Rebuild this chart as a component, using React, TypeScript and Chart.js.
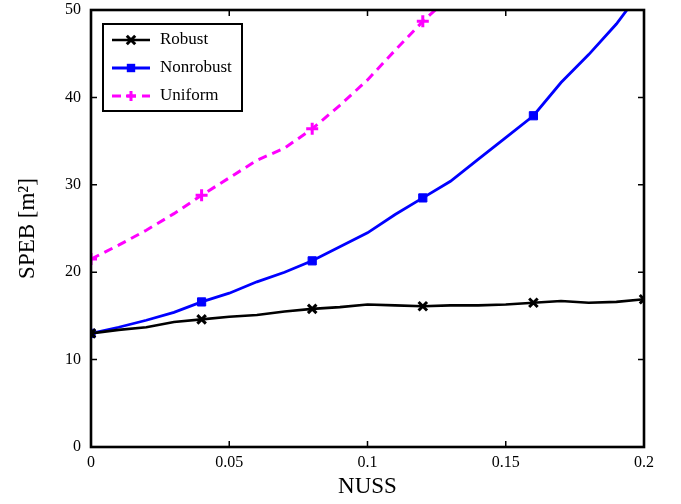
import React, { useEffect, useRef } from "react";
import { Chart, registerables } from "chart.js";

Chart.register(...registerables);

// NUSS samples (every 0.01); markers are shown every 0.04
const NUSS = [0, 0.01, 0.02, 0.03, 0.04, 0.05, 0.06, 0.07, 0.08, 0.09, 0.1, 0.11, 0.12, 0.13, 0.14, 0.15, 0.16, 0.17, 0.18, 0.19, 0.2];
const ROBUST = [13.0, 13.4, 13.7, 14.3, 14.6, 14.9, 15.1, 15.5, 15.8, 16.0, 16.3, 16.2, 16.1, 16.2, 16.2, 16.3, 16.5, 16.7, 16.5, 16.6, 16.9];
const NONROBUST = [13.0, 13.7, 14.5, 15.4, 16.6, 17.6, 18.9, 20.0, 21.3, 22.9, 24.5, 26.6, 28.5, 30.4, 32.9, 35.4, 37.9, 41.7, 44.9, 48.4, 52.6];
const UNIFORM = [21.5, 23.1, 24.8, 26.7, 28.8, 30.8, 32.8, 34.2, 36.4, 39.1, 42.0, 45.4, 48.7, 51.6];

const X_TICKS = [0, 0.05, 0.1, 0.15, 0.2];
const X_TICK_LABELS = ["0", "0.05", "0.1", "0.15", "0.2"];
const Y_TICKS = [0, 10, 20, 30, 40, 50];

const SERIF = "'Liberation Serif', 'DejaVu Serif', serif";

const toPoints = (ys: number[]) => ys.map((y, i) => ({ x: NUSS[i], y }));
const markerRadius = (r: number) => (ctx: any) => (ctx.dataIndex % 4 === 0 ? r : 0);

// Box frame with inward ticks on all four sides
const framePlugin = {
  id: "frame",
  afterDatasetsDraw(chart: any) {
    const { ctx, chartArea: a, scales } = chart;
    const len = 6;
    ctx.save();
    ctx.strokeStyle = "#000";
    ctx.lineWidth = 1.5;
    ctx.beginPath();
    X_TICKS.forEach((v) => {
      const px = scales.x.getPixelForValue(v);
      ctx.moveTo(px, a.bottom);
      ctx.lineTo(px, a.bottom - len);
      ctx.moveTo(px, a.top);
      ctx.lineTo(px, a.top + len);
    });
    Y_TICKS.forEach((v) => {
      const py = scales.y.getPixelForValue(v);
      ctx.moveTo(a.left, py);
      ctx.lineTo(a.left + len, py);
      ctx.moveTo(a.right, py);
      ctx.lineTo(a.right - len, py);
    });
    ctx.stroke();
    ctx.lineWidth = 2.6;
    ctx.strokeRect(a.left, a.top, a.right - a.left, a.bottom - a.top);
    ctx.restore();
  },
};

// Legend box drawn inside the plot area, top-left
const legendPlugin = {
  id: "boxLegend",
  afterDraw(chart: any) {
    const { ctx, chartArea: a } = chart;
    const x0 = a.left + 12;
    const y0 = a.top + 14;
    const w = 139;
    const h = 87;
    ctx.save();
    ctx.fillStyle = "#fff";
    ctx.fillRect(x0, y0, w, h);
    ctx.strokeStyle = "#000";
    ctx.lineWidth = 2;
    ctx.strokeRect(x0, y0, w, h);
    chart.data.datasets.forEach((ds: any, i: number) => {
      const cy = y0 + 16 + i * 28;
      const lx0 = x0 + 9;
      const lx1 = x0 + 47;
      ctx.strokeStyle = ds.borderColor;
      ctx.lineWidth = ds.borderWidth;
      ctx.setLineDash(ds.borderDash || []);
      ctx.beginPath();
      ctx.moveTo(lx0, cy);
      ctx.lineTo(lx1, cy);
      ctx.stroke();
      ctx.setLineDash([]);
      const mx = (lx0 + lx1) / 2;
      const r = ds.legendRadius;
      ctx.lineWidth = ds.pointBorderWidth;
      ctx.strokeStyle = ds.pointBorderColor;
      ctx.fillStyle = ds.pointBackgroundColor;
      ctx.beginPath();
      if (ds.pointStyle === "rect") {
        ctx.fillRect(mx - r, cy - r, 2 * r, 2 * r);
      } else if (ds.pointStyle === "crossRot") {
        const d = r * 0.7;
        ctx.moveTo(mx - d, cy - d);
        ctx.lineTo(mx + d, cy + d);
        ctx.moveTo(mx - d, cy + d);
        ctx.lineTo(mx + d, cy - d);
        ctx.stroke();
      } else {
        ctx.moveTo(mx - r, cy);
        ctx.lineTo(mx + r, cy);
        ctx.moveTo(mx, cy - r);
        ctx.lineTo(mx, cy + r);
        ctx.stroke();
      }
      ctx.fillStyle = "#000";
      ctx.font = `17px ${SERIF}`;
      ctx.textAlign = "left";
      ctx.textBaseline = "middle";
      ctx.fillText(ds.label, x0 + 57, cy);
    });
    ctx.restore();
  },
};

export default function App() {
  const canvasRef = useRef<HTMLCanvasElement>(null);

  useEffect(() => {
    if (!canvasRef.current) return;
    const chart = new Chart(canvasRef.current, {
      type: "line",
      data: {
        datasets: [
          {
            label: "Robust",
            data: toPoints(ROBUST),
            borderColor: "#000000",
            borderWidth: 2.6,
            pointStyle: "crossRot",
            pointRadius: markerRadius(6),
            pointBorderWidth: 3,
            pointBorderColor: "#000000",
            pointBackgroundColor: "#000000",
            legendRadius: 6,
          } as any,
          {
            label: "Nonrobust",
            data: toPoints(NONROBUST),
            borderColor: "#0000ff",
            borderWidth: 2.8,
            pointStyle: "rect",
            pointRadius: markerRadius(5.8),
            pointBorderWidth: 1,
            pointBorderColor: "#0000ff",
            pointBackgroundColor: "#0000ff",
            legendRadius: 4.2,
          } as any,
          {
            label: "Uniform",
            data: toPoints(UNIFORM),
            borderColor: "#ff00ff",
            borderWidth: 3,
            borderDash: [9, 6],
            pointStyle: "cross",
            pointRadius: markerRadius(6),
            pointBorderWidth: 3,
            pointBorderColor: "#ff00ff",
            pointBackgroundColor: "#ff00ff",
            legendRadius: 5,
          } as any,
        ],
      },
      options: {
        animation: false,
        responsive: true,
        maintainAspectRatio: false,
        layout: { padding: { left: 0, top: 10, right: 37, bottom: 0 } },
        plugins: { legend: { display: false }, tooltip: { enabled: false } },
        scales: {
          x: {
            type: "linear",
            min: 0,
            max: 0.2,
            afterBuildTicks: (s: any) => {
              s.ticks = X_TICKS.map((v) => ({ value: v }));
            },
            afterFit: (s: any) => {
              s.height = 57;
              s.paddingLeft = 0;
              s.paddingRight = 0;
            },
            grid: { display: false, drawTicks: false },
            border: { display: false },
            ticks: {
              color: "#000",
              font: { family: SERIF, size: 16 },
              padding: 6,
              maxRotation: 0,
              callback: (v: any) => {
                const i = X_TICKS.findIndex((t) => Math.abs(t - v) < 1e-9);
                return i >= 0 ? X_TICK_LABELS[i] : "";
              },
            },
            title: {
              display: true,
              text: "NUSS",
              color: "#000",
              font: { family: SERIF, size: 23 },
              padding: { top: 0, bottom: 3 },
            },
          },
          y: {
            type: "linear",
            min: 0,
            max: 50,
            afterBuildTicks: (s: any) => {
              s.ticks = Y_TICKS.map((v) => ({ value: v }));
            },
            afterFit: (s: any) => {
              s.width = 91;
              s.paddingTop = 0;
              s.paddingBottom = 0;
            },
            grid: { display: false, drawTicks: false },
            border: { display: false },
            ticks: {
              color: "#000",
              font: { family: SERIF, size: 16 },
              padding: 10,
            },
            title: {
              display: true,
              text: "SPEB [m²]",
              color: "#000",
              font: { family: SERIF, size: 23 },
              padding: { top: 14, bottom: 0 },
            },
          },
        },
      },
      plugins: [framePlugin, legendPlugin],
    });
    return () => chart.destroy();
  }, []);

  return (
    <div style={{ position: "fixed", left: 0, top: 0, width: 681, height: 504, background: "#fff" }}>
      <canvas ref={canvasRef} />
    </div>
  );
}
